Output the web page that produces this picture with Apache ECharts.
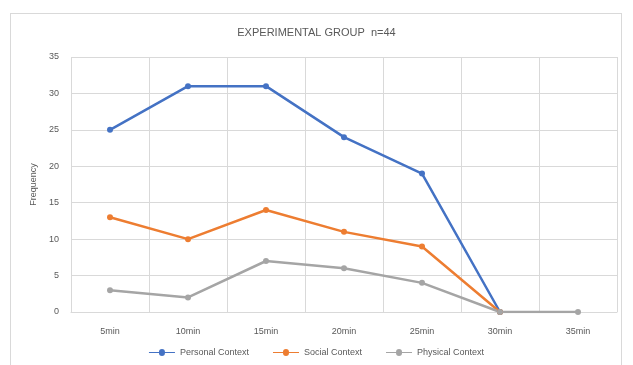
<!DOCTYPE html>
<html>
<head>
<meta charset="utf-8">
<title>Experimental group</title>
<script src="https://cdn.jsdelivr.net/npm/echarts@6/dist/echarts.min.js"></script>
<style>
    html, body { margin: 0; padding: 0; background: #fff; }
    #frame {
        position: absolute; left: 10px; top: 13px;
        width: 612px; height: 360px;
        border: 1px solid #d9d9d9; box-sizing: border-box;
    }
    #chart { position: absolute; left: 0; top: 0; width: 633px; height: 365px; }
</style>
</head>
<body>
<div id="frame"></div>
<div id="chart"></div>
<script>
    // data
    var categories = ['5min', '10min', '15min', '20min', '25min', '30min', '35min'];
    var personal = [25, 31, 31, 24, 19, 0, null];
    var social = [13, 10, 14, 11, 9, 0, null];
    var physical = [3, 2, 7, 6, 4, 0, 0];
    var yTicks = [0, 5, 10, 15, 20, 25, 30, 35];

    var txt = '#595959';
    var font = 'Liberation Sans Narrow, Liberation Sans';
    function line(name, data, color, width) {
        return {
            name: name,
            type: 'line',
            data: data,
            symbol: 'circle',
            symbolSize: 6,
            connectNulls: false,
            lineStyle: { color: color, width: width },
            itemStyle: { color: color },
            emphasis: { disabled: true }
        };
    }

    var chart = echarts.init(document.getElementById('chart'));
    chart.setOption({
        animation: false,
        title: {
            text: 'EXPERIMENTAL GROUP  n=44',
            left: 'center', top: 22,
            textStyle: { fontFamily: font, fontSize: 11, fontWeight: 'normal', color: txt }
        },
        grid: { left: 71, right: 16, top: 57, bottom: 53 },
        legend: {
            bottom: 3,
            left: 'center',
            itemWidth: 26, itemHeight: 7, itemGap: 24,
            icon: 'path://M0,3 L10,3 A3,3 0 0 1 16,3 L26,3 L26,4 L16,4 A3,3 0 0 1 10,4 L0,4 Z',
            textStyle: { fontFamily: font, fontSize: 9, color: txt },
            data: ['Personal Context', 'Social Context', 'Physical Context']
        },
        xAxis: {
            type: 'category',
            data: categories,
            boundaryGap: true,
            axisLine: { lineStyle: { color: '#d9d9d9' } },
            axisTick: { show: false },
            splitLine: { show: true, lineStyle: { color: '#d9d9d9' } },
            axisLabel: { color: txt, fontSize: 9, margin: 15, fontFamily: font }
        },
        yAxis: {
            type: 'value',
            min: yTicks[0], max: yTicks[yTicks.length - 1], interval: 5,
            name: 'Frequency',
            nameLocation: 'middle',
            nameGap: 26,
            nameTextStyle: { color: txt, fontSize: 9, fontFamily: font },
            axisLine: { show: false },
            axisTick: { show: false },
            splitLine: { lineStyle: { color: '#d9d9d9' } },
            axisLabel: { color: txt, fontSize: 9, margin: 12, fontFamily: font }
        },
        series: [
            line('Personal Context', personal, '#4472C4', 2.5),
            line('Social Context', social, '#ED7D31', 2.5),
            line('Physical Context', physical, '#A5A5A5', 2.5)
        ]
    });
</script>
</body>
</html>
